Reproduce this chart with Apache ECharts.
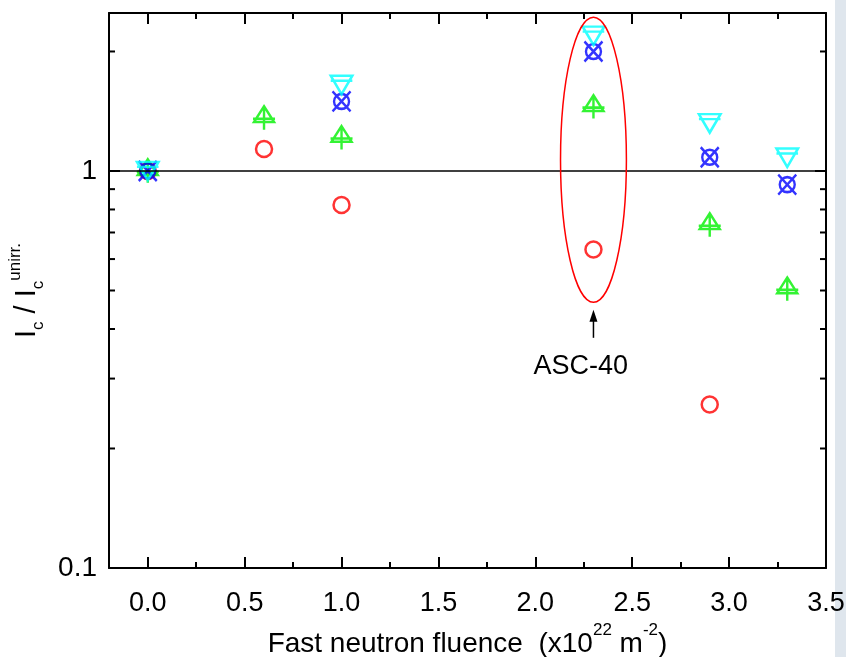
<!DOCTYPE html>
<html>
<head>
<meta charset="utf-8">
<title>Ic / Ic unirr. vs fast neutron fluence</title>
<script src="https://cdn.jsdelivr.net/npm/echarts@6/dist/echarts.min.js"></script>
<style>
  html, body { margin: 0; padding: 0; background: #fff; }
  #chart { width: 846px; height: 657px; }
</style>
</head>
<body>
<div id="chart"></div>
<script>
  // fast neutron fluence (x10^22 m^-2) and Ic / Ic(unirr.) per sample set
  var redX = [0, 0.6, 1.0, 2.3, 2.9];
  var redY = [1.0, 1.136, 0.821, 0.634, 0.258];
  var greenX = [0, 0.6, 1.0, 2.3, 2.9, 3.3];
  var greenY = [1.0, 1.36, 1.212, 1.45, 0.731, 0.504];
  var blueX = [0, 1.0, 2.3, 2.9, 3.3];
  var blueY = [1.0, 1.497, 2.0, 1.083, 0.924];
  var cyanX = [0, 1.0, 2.3, 2.9, 3.3];
  var cyanY = [1.0, 1.647, 2.19, 1.318, 1.08];

  // log axis minor ticks (2..9 x decade)
  var yMinorTicks = [0.2, 0.3, 0.4, 0.5, 0.6, 0.7, 0.8, 0.9, 2];

  // ASC-40 annotation, in data units
  var ascLabel = 'ASC-40';
  var ascEllipseX = [2.13, 2.47];
  var ascEllipseY = [0.467, 2.44];
  var ascArrowX = 2.3;
  var ascArrowY = [0.38, 0.447];
  var ascLabelPos = [2.235, 0.322];

  var FONT = "'Liberation Sans Narrow', 'Liberation Sans', Arial, sans-serif";

  function pairs(xs, ys) {
    var out = [];
    for (var i = 0; i < xs.length; i++) out.push([xs[i], ys[i]]);
    return out;
  }

  // open markers drawn as outlines
  var triUpCross = 'path://M0,-11.7L10,4L-10,4Z M-11,0.7L11,0.7 M0,-11.7L0,11.7';
  var circleX = 'path://M-7.5,0A7.5,7.5 0 1 1 7.5,0A7.5,7.5 0 1 1 -7.5,0Z M-9,-10L9,10 M9,-10L-9,10';
  var triDownBar = 'path://M-10.8,-9.2L10.8,-9.2L0,9.2Z M-10.8,-4.2L10.8,-4.2';

  function markerStyle(c) {
    return {color: 'rgba(0,0,0,0)', borderColor: c, borderWidth: 2.5};
  }

  var chart = echarts.init(document.getElementById('chart'));

  var axisLineStyle = {color: '#000', width: 2};
  var tickStyle = {color: '#000', width: 2};

  var option = {
    animation: false,
    backgroundColor: '#fff',
    grid: {left: 109, right: 20, top: 13, bottom: 89, containLabel: false, outerBoundsMode: 'none'},
    graphic: [
      {type: 'rect', right: 0, top: 0, shape: {width: 11, height: 657}, style: {fill: '#dfe6ed'}}
    ],
    xAxis: [
      {
        type: 'value', position: 'bottom', min: -0.2, max: 3.5, splitNumber: 8,
        axisLine: {show: true, onZero: false, lineStyle: axisLineStyle},
        axisTick: {inside: true, length: 11, lineStyle: tickStyle},
        minorTick: {show: true, splitNumber: 2, length: 6, lineStyle: tickStyle},
        splitLine: {show: false},
        axisLabel: {
          margin: 22, showMinLabel: false, color: '#000', fontSize: 27, fontFamily: FONT,
          formatter: function (v) { return v.toFixed(1); }
        },
        name: '{t|Fast neutron fluence  (x10}{s|22}{t| m}{s|-2}{t|)}',
        nameLocation: 'middle', nameGap: 51,
        nameTextStyle: {
          rich: {
            t: {fontSize: 28, fontFamily: FONT, color: '#000', lineHeight: 36, verticalAlign: 'bottom'},
            s: {fontSize: 17, fontFamily: FONT, color: '#000', lineHeight: 17, verticalAlign: 'top'}
          }
        }
      },
      {
        type: 'value', position: 'top', min: -0.2, max: 3.5, splitNumber: 8,
        axisLine: {show: true, onZero: false, lineStyle: axisLineStyle},
        axisTick: {inside: true, length: 11, lineStyle: tickStyle},
        minorTick: {show: true, splitNumber: 2, length: 6, lineStyle: tickStyle},
        splitLine: {show: false},
        axisLabel: {show: false}
      }
    ],
    yAxis: [
      {
        type: 'log', logBase: 10, position: 'left', min: 0.1, max: 2.5,
        axisLine: {show: true, onZero: false, lineStyle: axisLineStyle},
        axisTick: {inside: true, length: 11, lineStyle: tickStyle},
        splitLine: {show: false},
        axisLabel: {
          margin: 12, showMaxLabel: false, color: '#000', fontSize: 28, fontFamily: FONT,
          formatter: function (v) { return String(+v.toPrecision(3)); }
        },
        name: '{m|I}{sub|c}{m| / I}{sub|c}{sup|unirr.}',
        nameLocation: 'middle', nameRotate: 90, nameGap: 48,
        nameTextStyle: {
          rich: {
            m: {fontSize: 29, fontFamily: FONT, color: '#000', lineHeight: 40, verticalAlign: 'middle'},
            sub: {fontSize: 17, fontFamily: FONT, color: '#000', lineHeight: 17, verticalAlign: 'bottom'},
            sup: {fontSize: 17, fontFamily: FONT, color: '#000', lineHeight: 17, verticalAlign: 'top'}
          }
        }
      },
      {
        type: 'log', logBase: 10, position: 'right', min: 0.1, max: 2.5,
        axisLine: {show: true, onZero: false, lineStyle: axisLineStyle},
        axisTick: {inside: true, length: 11, lineStyle: tickStyle},
        splitLine: {show: false},
        axisLabel: {show: false}
      }
    ],
    series: [
      {
        // minor ticks of the log axes, left and right
        type: 'custom', silent: true, z: 1,
        data: yMinorTicks.map(function (v) { return [0, v]; }),
        renderItem: function (params, api) {
          var cs = params.coordSys;
          var y = api.coord([0, api.value(1)])[1];
          var st = {stroke: '#000', lineWidth: 2};
          return {
            type: 'group',
            children: [
              {type: 'line', shape: {x1: cs.x, y1: y, x2: cs.x + 6, y2: y}, style: st},
              {type: 'line', shape: {x1: cs.x + cs.width - 6, y1: y, x2: cs.x + cs.width, y2: y}, style: st}
            ]
          };
        }
      },
      {
        name: 'red', type: 'scatter', symbol: 'circle', symbolSize: 16,
        itemStyle: markerStyle('#ff0000'),
        data: pairs(redX, redY),
        markLine: {
          silent: true, symbol: ['none', 'none'], label: {show: false},
          lineStyle: {color: '#000', width: 1.5, type: 'solid'},
          data: [{yAxis: 1}]
        }
      },
      {
        name: 'green', type: 'scatter', symbol: triUpCross, symbolSize: [22, 23.4],
        itemStyle: markerStyle('#00f000'),
        data: pairs(greenX, greenY)
      },
      {
        name: 'blue', type: 'scatter', symbol: circleX, symbolSize: [18, 20],
        itemStyle: markerStyle('#0000ff'),
        data: pairs(blueX, blueY)
      },
      {
        name: 'cyan', type: 'scatter', symbol: triDownBar, symbolSize: [21.6, 18.4],
        itemStyle: markerStyle('#00ffff'),
        data: pairs(cyanX, cyanY)
      },
      {
        // ASC-40 ellipse, arrow and label
        type: 'custom', silent: true, z: 5,
        data: [[ascArrowX, 1]],
        renderItem: function (params, api) {
          var p0 = api.coord([ascEllipseX[0], ascEllipseY[0]]);
          var p1 = api.coord([ascEllipseX[1], ascEllipseY[1]]);
          var tail = api.coord([ascArrowX, ascArrowY[0]]);
          var tip = api.coord([ascArrowX, ascArrowY[1]]);
          var lab = api.coord(ascLabelPos);
          return {
            type: 'group',
            children: [
              {
                type: 'ellipse',
                shape: {cx: (p0[0] + p1[0]) / 2, cy: (p0[1] + p1[1]) / 2,
                        rx: Math.abs(p1[0] - p0[0]) / 2, ry: Math.abs(p1[1] - p0[1]) / 2},
                style: {fill: 'none', stroke: '#ff0000', lineWidth: 1.5}
              },
              {
                type: 'line', shape: {x1: tail[0], y1: tail[1], x2: tip[0], y2: tip[1] + 8},
                style: {stroke: '#000', lineWidth: 1.5}
              },
              {
                type: 'polygon',
                shape: {points: [[tip[0], tip[1]], [tip[0] - 4, tip[1] + 12], [tip[0] + 4, tip[1] + 12]]},
                style: {fill: '#000'}
              },
              {
                type: 'text', x: lab[0], y: lab[1],
                style: {text: ascLabel, fill: '#000', fontSize: 27, fontFamily: FONT,
                        align: 'center', verticalAlign: 'middle'}
              }
            ]
          };
        }
      }
    ]
  };

  chart.setOption(option);
</script>
</body>
</html>
